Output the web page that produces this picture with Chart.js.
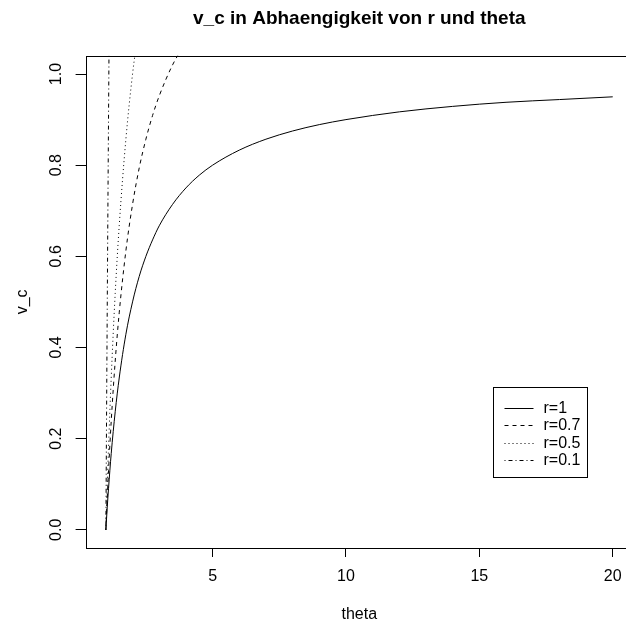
<!DOCTYPE html>
<html>
<head>
<meta charset="utf-8">
<script src="https://cdn.jsdelivr.net/npm/chart.js@4/dist/chart.umd.min.js"></script>
<style>
html, body { margin: 0; padding: 0; background: #fff; overflow: hidden; }
</style>
</head>
<body>
<canvas id="myChart" width="640" height="626"></canvas>
<script>
// values
const thetaR1 = [1, 1.05, 1.1, 1.2, 1.35, 1.5, 1.75, 2, 2.25, 2.5, 2.75, 3, 3.5, 4, 4.5, 5, 6, 7, 8, 9, 10, 12, 14, 16, 18, 20];
const vcR1 = [0, 0.048, 0.091, 0.167, 0.259, 0.333, 0.429, 0.50, 0.556, 0.60, 0.636, 0.667, 0.714, 0.75, 0.778, 0.80, 0.833, 0.857, 0.875, 0.889, 0.90, 0.917, 0.929, 0.938, 0.944, 0.95];

const thetaR07 = [1, 1.05, 1.1, 1.2, 1.35, 1.5, 1.75, 2, 2.25, 2.5, 2.75, 3, 3.5, 4];
const vcR07 = [0, 0.068, 0.13, 0.238, 0.37, 0.476, 0.612, 0.714, 0.794, 0.857, 0.909, 0.952, 1.02, 1.07];

const thetaR05 = [1, 1.05, 1.1, 1.2, 1.35, 1.5, 1.75, 2, 2.25];
const vcR05 = [0, 0.095, 0.182, 0.333, 0.519, 0.667, 0.857, 1.0, 1.11];

const thetaR01 = [1, 1.02, 1.05, 1.08, 1.12, 1.15];
const vcR01 = [0, 0.196, 0.476, 0.741, 1.07, 1.30];

const seriesLabels = ['r=1', 'r=0.7', 'r=0.5', 'r=0.1'];
const xTicks = [5, 10, 15, 20];
const yTicks = [0, 0.2, 0.4, 0.6, 0.8, 1.0];

const FONT = '"Liberation Sans", Arial, Helvetica, sans-serif';

function toPoints(xs, ys) {
  return xs.map((x, i) => ({ x: x, y: ys[i] }));
}

function lineSet(label, xs, ys, dash) {
  return {
    label: label,
    data: toPoints(xs, ys),
    showLine: true,
    borderColor: '#000',
    borderWidth: 1,
    borderDash: dash,
    pointRadius: 0,
    cubicInterpolationMode: 'monotone'
  };
}

// box around the plot region
const boxPlugin = {
  id: 'box',
  afterDraw(chart) {
    const { ctx, chartArea } = chart;
    ctx.save();
    ctx.strokeStyle = '#000';
    ctx.lineWidth = 1;
    ctx.setLineDash([]);
    ctx.strokeRect(Math.round(chartArea.left) + 0.5, Math.round(chartArea.top) + 0.5,
      Math.round(chartArea.right - chartArea.left), Math.round(chartArea.bottom - chartArea.top));
    ctx.restore();
  }
};

// R-style legend box inside the plot
const legendPlugin = {
  id: 'rLegend',
  afterDraw(chart) {
    const { ctx } = chart;
    const x = chart.scales.x, y = chart.scales.y;
    const left = Math.round(x.getPixelForValue(15.5)) + 0.5;
    const top = Math.round(y.getPixelForValue(0.314)) + 0.5;
    ctx.save();
    ctx.fillStyle = '#fff';
    ctx.fillRect(left, top, 94, 90);
    ctx.strokeStyle = '#000';
    ctx.lineWidth = 1;
    ctx.setLineDash([]);
    ctx.strokeRect(left, top, 94, 90);
    ctx.font = '16px ' + FONT;
    ctx.textBaseline = 'middle';
    ctx.textAlign = 'left';
    chart.data.datasets.forEach((ds, i) => {
      const ry = Math.round(top + 20 + i * 17.6) + 0.5;
      ctx.setLineDash(ds.borderDash || []);
      ctx.beginPath();
      ctx.moveTo(left + 11, ry);
      ctx.lineTo(left + 40, ry);
      ctx.stroke();
      ctx.fillStyle = '#000';
      ctx.fillText(ds.label, left + 50, ry);
    });
    ctx.restore();
  }
};

const ctx = document.getElementById('myChart').getContext('2d');
new Chart(ctx, {
  type: 'scatter',
  data: {
    datasets: [
      lineSet(seriesLabels[0], thetaR1, vcR1, []),
      lineSet(seriesLabels[1], thetaR07, vcR07, [4, 4]),
      lineSet(seriesLabels[2], thetaR05, vcR05, [1, 3]),
      lineSet(seriesLabels[3], thetaR01, vcR01, [1, 3, 4, 3])
    ]
  },
  options: {
    responsive: false,
    animation: false,
    layout: { padding: { left: 0, right: 7, top: 0, bottom: 0 } },
    plugins: {
      legend: { display: false },
      tooltip: { enabled: false },
      title: {
        display: true,
        text: 'v_c in Abhaengigkeit von r und theta',
        fullSize: false,
        color: '#000',
        font: { family: FONT, size: 19, weight: 'bold' },
        padding: { top: 7, bottom: 26 }
      }
    },
    scales: {
      x: {
        type: 'linear',
        min: 0.24,
        max: 20.76,
        afterBuildTicks: (scale) => { scale.ticks = xTicks.map(v => ({ value: v })); },
        afterFit: (scale) => { scale.height = 78; },
        grid: { display: true, drawOnChartArea: false, drawTicks: true, tickLength: 9, color: '#000', lineWidth: 1 },
        border: { display: false },
        ticks: {
          color: '#000',
          font: { family: FONT, size: 16 },
          padding: 10,
          maxRotation: 0,
          autoSkip: false,
          callback: (v) => String(v)
        },
        title: {
          display: true,
          text: 'theta',
          color: '#000',
          font: { family: FONT, size: 16 },
          padding: { top: 0, bottom: 2 }
        }
      },
      y: {
        type: 'linear',
        min: -0.04,
        max: 1.04,
        afterBuildTicks: (scale) => { scale.ticks = yTicks.map(v => ({ value: v })); },
        afterFit: (scale) => { scale.width = 85.6; },
        grid: { display: true, drawOnChartArea: false, drawTicks: true, tickLength: 10, color: '#000', lineWidth: 1 },
        border: { display: false },
        ticks: {
          color: '#000',
          font: { family: FONT, size: 16 },
          padding: 8,
          minRotation: 90,
          maxRotation: 90,
          crossAlign: 'center',
          autoSkip: false,
          callback: (v) => v.toFixed(1)
        },
        title: {
          display: true,
          text: 'v_c',
          color: '#000',
          font: { family: FONT, size: 16 },
          padding: { top: 13, bottom: 0 }
        }
      }
    }
  },
  plugins: [boxPlugin, legendPlugin]
});
</script>
</body>
</html>
